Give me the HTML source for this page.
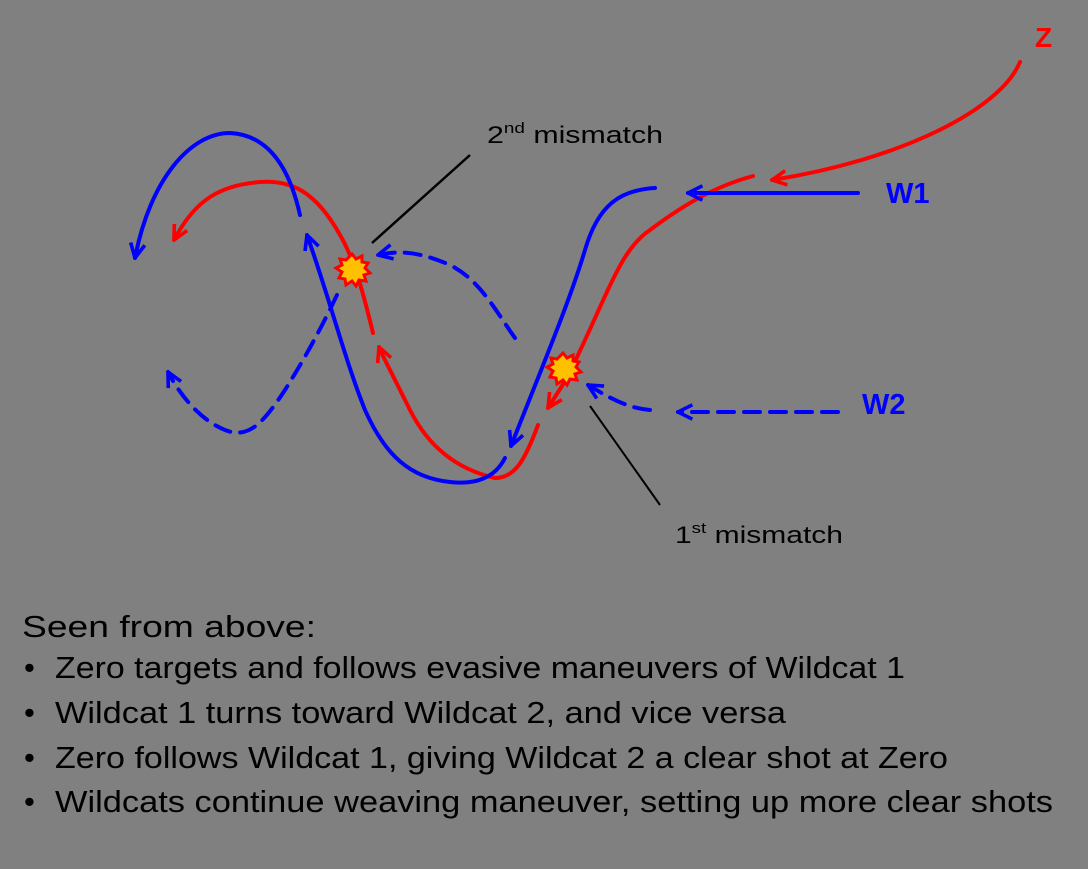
<!DOCTYPE html>
<html><head><meta charset="utf-8"><style>
html,body{margin:0;padding:0;background:#808080;}
svg{display:block}
text{font-family:"Liberation Sans",sans-serif;}
</style></head><body>
<svg width="1088" height="869" viewBox="0 0 1088 869" xmlns="http://www.w3.org/2000/svg">
<defs>
<marker id="ar" viewBox="0 0 10 10" refX="9" refY="5" markerWidth="4.5" markerHeight="4.5" orient="auto-start-reverse" markerUnits="strokeWidth">
<path d="M1,1 L9,5 L1,9" fill="none" stroke="#f00" stroke-width="2"/></marker>
<marker id="ab" viewBox="0 0 10 10" refX="9" refY="5" markerWidth="4.5" markerHeight="4.5" orient="auto-start-reverse" markerUnits="strokeWidth">
<path d="M1,1 L9,5 L1,9" fill="none" stroke="#00f" stroke-width="2"/></marker>
</defs>
<rect width="1088" height="869" fill="#808080"/>
<g fill="none" stroke-width="4" stroke-linecap="round">
<!-- red -->
<path d="M772,180 C900,160 1000,110 1020,62" stroke="#f00" marker-start="url(#ar)"/>
<path d="M753,176 C720,185 690,200 650,230 C620,250 610,290 567,378" stroke="#f00"/>
<path d="M567,378 L548,408" stroke="#f00" marker-end="url(#ar)"/>
<path d="M538,425 C525,460 515,478 495,478 C460,470 430,450 410,410 C395,380 385,360 380,350" stroke="#f00"/>
<path d="M381,352 L379,347" stroke="#f00" marker-end="url(#ar)"/>
<path d="M373,333 C365,300 355,260 340,235 C315,190 290,180 260,182 C220,185 195,200 174,240" stroke="#f00" marker-end="url(#ar)"/>
<!-- blue -->
<path d="M858,193 L688,193" stroke="#00f" marker-end="url(#ab)"/>
<path d="M655,188 C620,190 598,205 585,250 C570,300 545,360 511,446" stroke="#00f" marker-end="url(#ab)"/>
<path d="M505,458 C495,478 475,485 450,482 C410,478 385,455 365,410 C345,360 330,300 307,235" stroke="#00f" marker-end="url(#ab)"/>
<path d="M300,215 C290,170 270,135 230,133 C190,133 150,180 135,258" stroke="#00f" marker-end="url(#ab)"/>
<g stroke-dasharray="16,10">
<path d="M838,412 L678,412" stroke="#00f" marker-end="url(#ab)"/>
<path d="M650,410 C625,408 605,395 588,385" stroke="#00f" marker-end="url(#ab)"/>
<path d="M515,338 C495,310 480,280 450,265 C420,252 400,250 378,255" stroke="#00f" marker-end="url(#ab)"/>
<path d="M337,295 C325,320 310,350 285,390 C265,420 250,440 225,430 C200,420 180,395 168,372" stroke="#00f" marker-end="url(#ab)"/>
</g>
</g>
<line x1="372" y1="243" x2="470" y2="155" stroke="#000" stroke-width="2.5"/>
<line x1="590" y1="406" x2="660" y2="505" stroke="#000" stroke-width="2"/>
<!-- bursts -->
<g stroke="#f00" stroke-width="3" fill="#ffc000">
<polygon points="352,254 356,259 362,256 362,262 368,263 365,268 370,273 364,275 366,281 359,280 356,286 352,281 346,285 345,279 339,278 342,272 336,268 342,265 340,259 346,260"/>
<polygon points="563,353 567,358 573,355 573,361 579,362 576,367 581,372 575,374 577,380 570,379 567,385 563,380 557,384 556,378 550,377 553,371 547,367 553,364 551,358 557,359"/>
</g>
<text x="487" y="143" font-size="24" fill="#000" textLength="176" lengthAdjust="spacingAndGlyphs">2<tspan font-size="15" dy="-10">nd</tspan><tspan dy="10"> mismatch</tspan></text>
<text x="675" y="543" font-size="24" fill="#000" textLength="168" lengthAdjust="spacingAndGlyphs">1<tspan font-size="15" dy="-10">st</tspan><tspan dy="10"> mismatch</tspan></text>
<text x="886" y="203" font-size="29" font-weight="bold" fill="#00f">W1</text>
<text x="862" y="414" font-size="29" font-weight="bold" fill="#00f">W2</text>
<text x="1035" y="47" font-size="28" font-weight="bold" fill="#f00">Z</text>
<g font-size="31" fill="#000">
<text x="22" y="637" textLength="294" lengthAdjust="spacingAndGlyphs">Seen from above:</text>
<text x="24" y="678">•</text><text x="55" y="678" textLength="850" lengthAdjust="spacingAndGlyphs">Zero targets and follows evasive maneuvers of Wildcat 1</text>
<text x="24" y="723">•</text><text x="55" y="723" textLength="731" lengthAdjust="spacingAndGlyphs">Wildcat 1 turns toward Wildcat 2, and vice versa</text>
<text x="24" y="768">•</text><text x="55" y="768" textLength="893" lengthAdjust="spacingAndGlyphs">Zero follows Wildcat 1, giving Wildcat 2 a clear shot at Zero</text>
<text x="24" y="812">•</text><text x="55" y="812" textLength="998" lengthAdjust="spacingAndGlyphs">Wildcats continue weaving maneuver, setting up more clear shots</text>
</g>
</svg>
</body></html>
